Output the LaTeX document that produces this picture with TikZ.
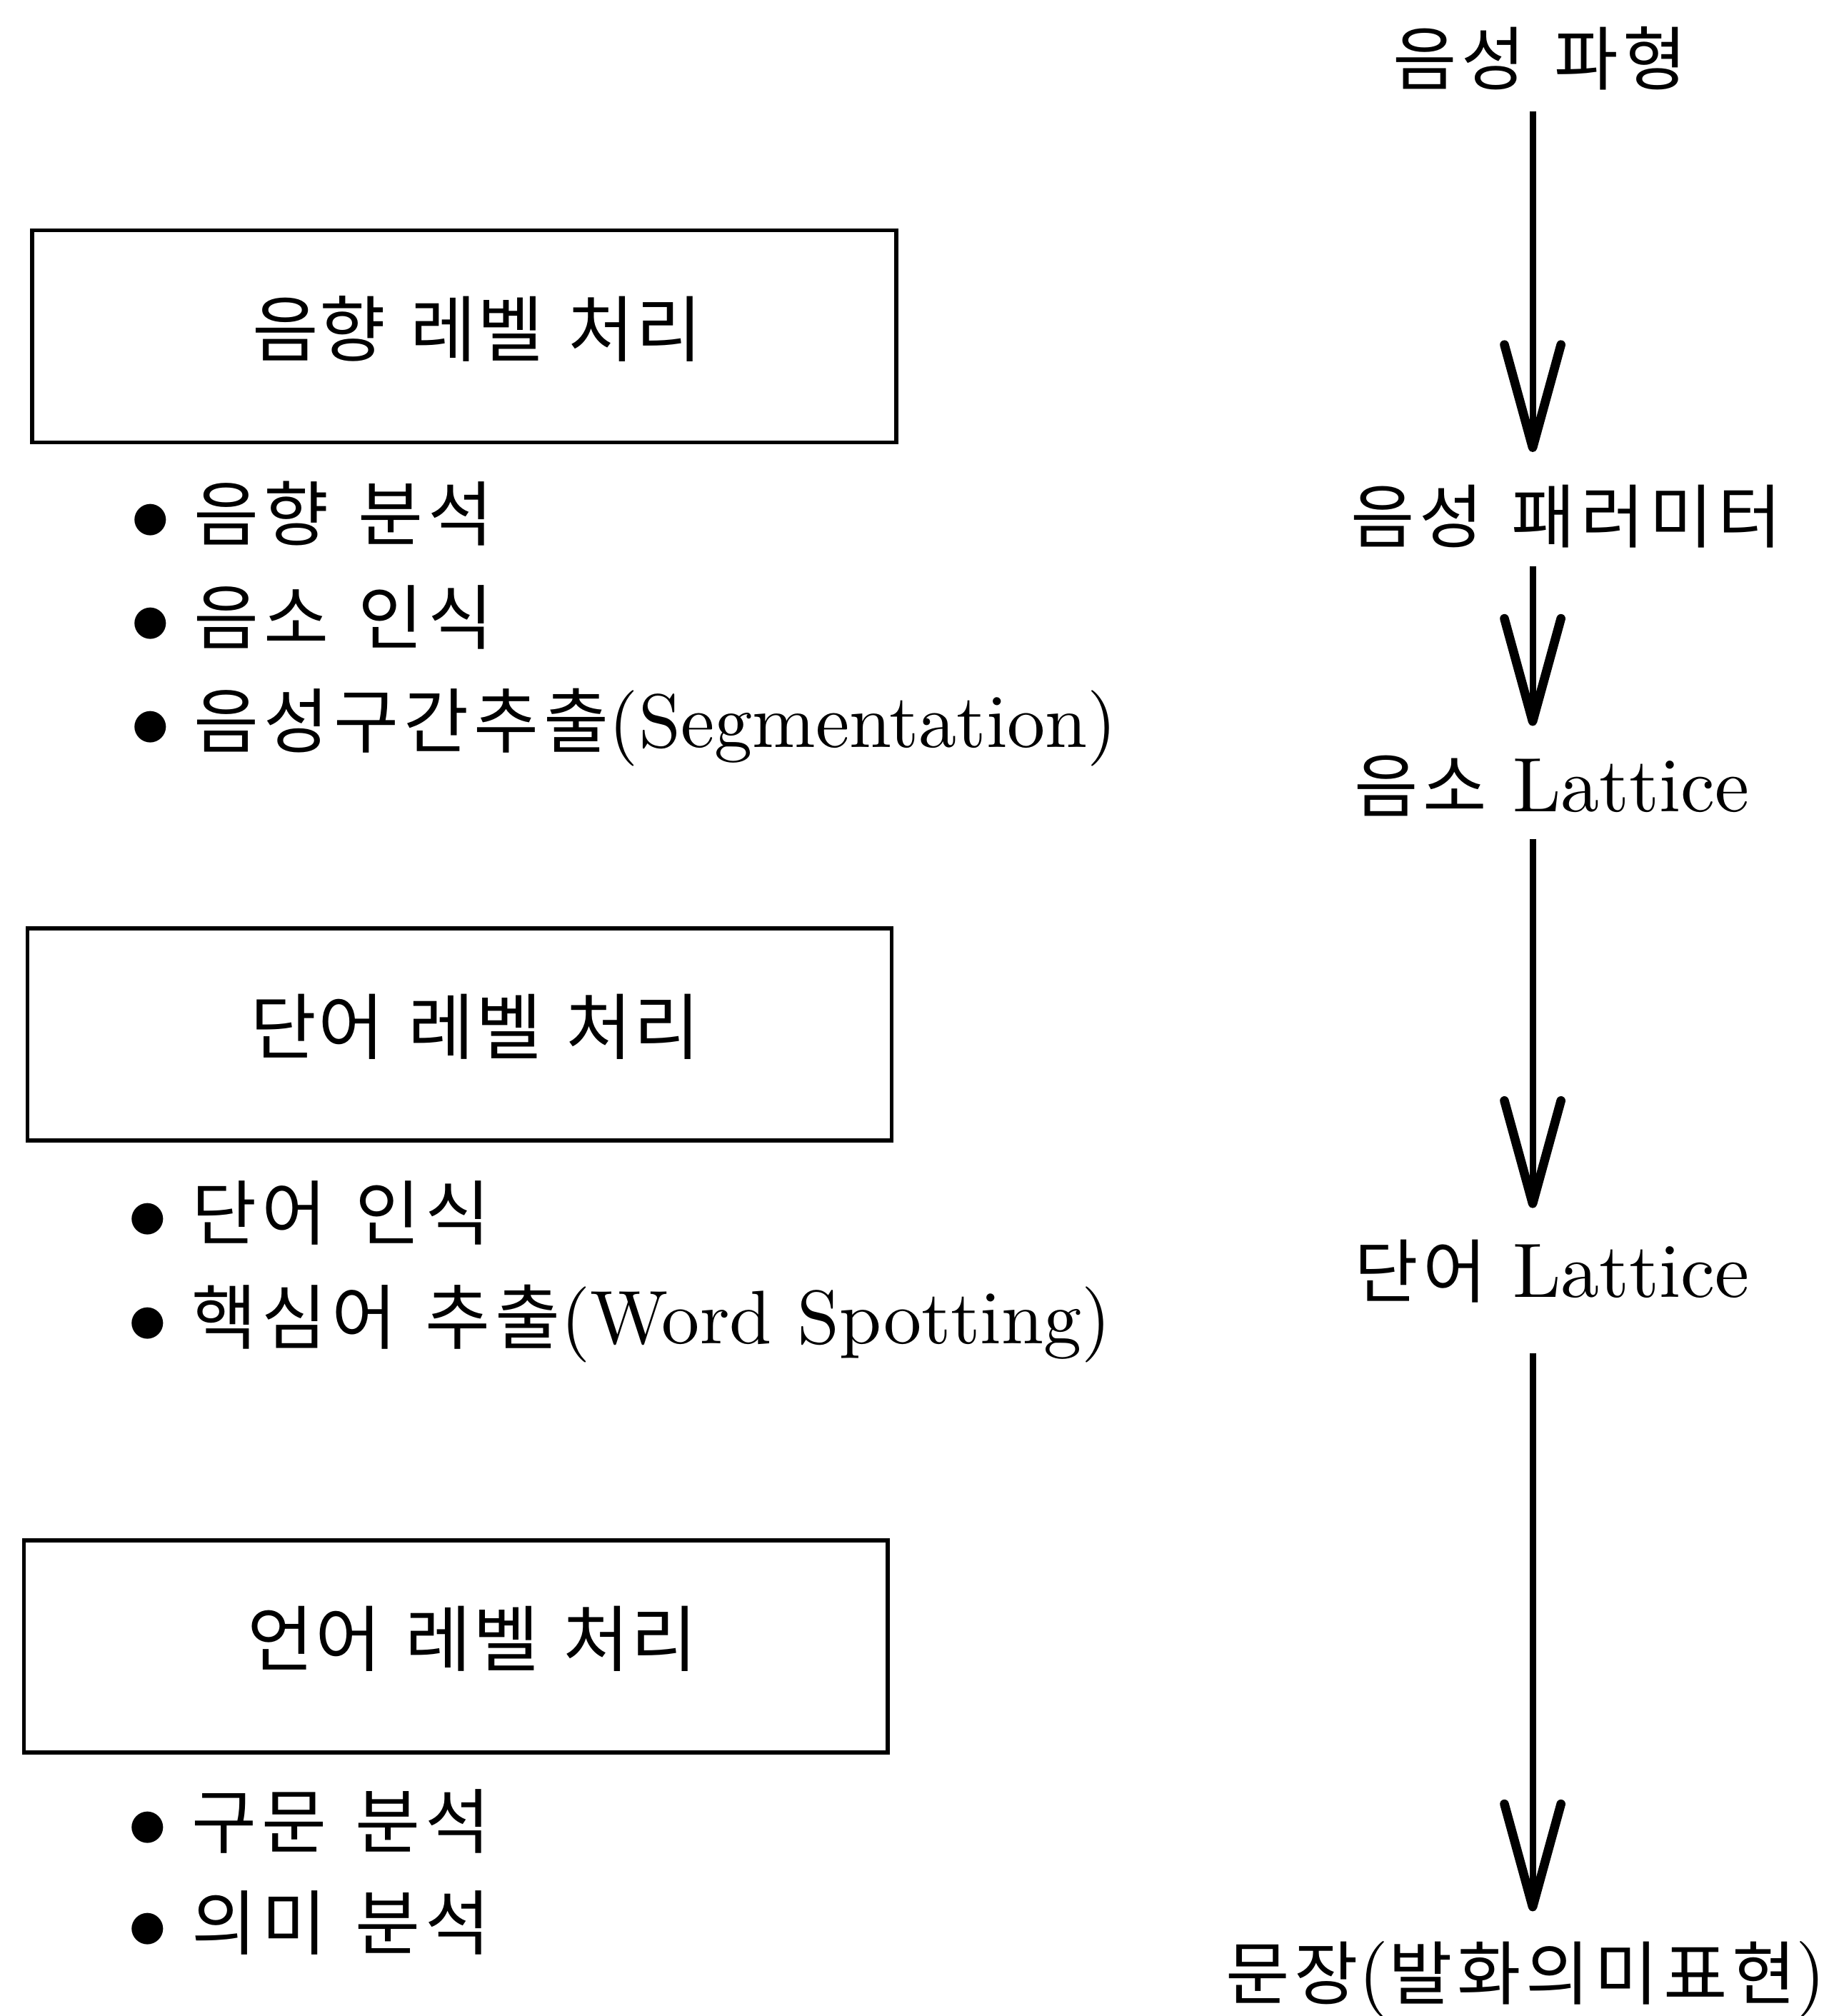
\RequirePackage{fix-cm}
\documentclass[tikz,border=0pt]{standalone}
\usepackage{fontspec}
\usetikzlibrary{arrows.meta}
\newfontfamily\krbody{Noto Sans CJK KR}[LetterSpace=7, WordSpace=1.4]
\newfontfamily\krhead{Noto Sans CJK KR}[LetterSpace=2]
\newfontfamily\lmten{lmroman10-regular.otf}
% mixed Korean / Latin text pieces
\newcommand\kb[1]{{\krbody\fontsize{27.5}{32}\selectfont #1}}
\newcommand\lb[1]{{\lmten\fontsize{29.5}{34}\selectfont #1}}
\newcommand\kf[1]{{\krbody\fontsize{27}{32}\selectfont #1}}
\newcommand\lf[1]{{\lmten\fontsize{30}{34}\selectfont #1}}
\newcommand\bulletmark{{\fontsize{31.5}{36}\selectfont$\bullet$}\hspace{9pt}}
\begin{document}
\begin{tikzpicture}[x=0.5pt,y=-0.5pt,
  levelbox/.style={draw, line width=1.5pt, inner sep=0pt,
    text width=336pt, align=center, minimum height=82.5pt,
    text height=23pt, text depth=7.7pt,
    font=\krhead\fontsize{28}{32}\selectfont},
  item/.style={anchor=base west, inner sep=0pt},
  flowlabel/.style={anchor=base west, inner sep=0pt, text height=21pt, text depth=3pt},
  flowarrow/.style={line width=2.5pt,
    -{Straight Barb[length=40pt, width=22pt, line width=3.5pt, round]}}]
\useasboundingbox (0,0) rectangle (1430,1568);

% processing levels
\node[levelbox] (acoustic) at (361,261.5)    {\hspace*{10pt}음향 레벨 처리};
\node[levelbox] (word)     at (357.5,804.5)  {\hspace*{12pt}단어 레벨 처리};
\node[levelbox] (language) at (354.5,1280.5) {\hspace*{13pt}언어 레벨 처리};

% tasks of each level
\node[item] (a1) at (101,420)  {\bulletmark\kb{음향 분석}};
\node[item] (a2) at (101,501)  {\bulletmark\kb{음소 인식}};
\node[item] (a3) at (101,581)  {\bulletmark\kb{음성구간추출}\lb{(Segmentation)}};
\node[item] (w1) at (99,964)   {\bulletmark\kb{단어 인식}};
\node[item] (w2) at (99,1045)  {\bulletmark\kb{핵심어 추출}\lb{(Word Spotting)}};
\node[item] (l1) at (99,1437)  {\bulletmark\kb{구문 분석}};
\node[item] (l2) at (99,1516)  {\bulletmark\kb{의미 분석}};

% data flow
\node[flowlabel] (wave)  at (1083,66)   {\kf{음성 파형}};
\node[flowlabel] (param) at (1050,422)  {\kf{음성 패러미터}};
\node[flowlabel] (phon)  at (1053,631)  {\kf{음소}\lf{ Lattice}};
\node[flowlabel] (wlat)  at (1053,1009) {\kf{단어}\lf{ Lattice}};
\node[flowlabel] (sent)  at (953,1555)  {\kf{문장}\lf{(}\kf{발화의미표현}\lf{)}};

\coordinate (axis) at (1192,0);
\draw[flowarrow, shorten <=7pt, shorten >=14pt] (wave.south -| axis) -- (param.north -| axis);
\draw[flowarrow, shorten <=6pt, shorten >=12pt] (param.south -| axis) -- (phon.north -| axis);
\draw[flowarrow, shorten <=7.5pt, shorten >=13.5pt] (phon.south -| axis) -- (wlat.north -| axis);
\draw[flowarrow, shorten <=18.5pt, shorten >=13pt] (wlat.south -| axis) -- (sent.north -| axis);
\end{tikzpicture}
\end{document}
